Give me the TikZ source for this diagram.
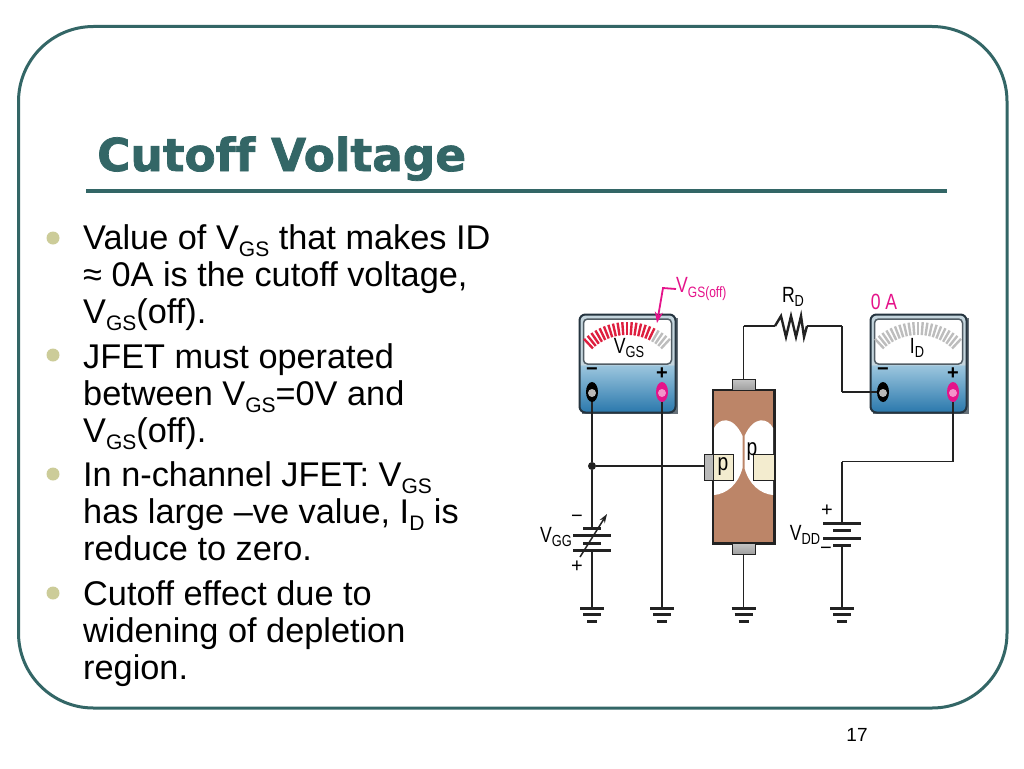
\documentclass[tikz,border=0pt]{standalone}
\usepackage{fontspec}
\setmainfont{Liberation Sans}
\newfontfamily\titlefont[Ligatures=NoCommon,FakeBold=1.6]{DejaVu Sans}
\newfontfamily\labelfont[FakeStretch=0.8]{Liberation Sans}
\usetikzlibrary{shapes.geometric,arrows.meta}
\definecolor{slateteal}{HTML}{336666}
\definecolor{bulletsoft}{HTML}{CCCC99}
\definecolor{meterpink}{HTML}{E5128A}
\definecolor{meterdark}{HTML}{25343F}
\definecolor{metertop}{HTML}{C4D5DD}
\definecolor{meterlight}{HTML}{9CC6DE}
\definecolor{meterlow}{HTML}{2A78AC}
\definecolor{tickred}{HTML}{DE1F3F}
\definecolor{tickgray}{HTML}{BDBDBD}
\definecolor{channelbrown}{HTML}{BC8568}
\definecolor{pbeige}{HTML}{F3ECCF}
\definecolor{wirecol}{HTML}{222222}
\pgfdeclareverticalshading{metershade}{100bp}{color(0bp)=(meterlow); color(25bp)=(meterlow); color(49bp)=(meterlight); color(49.5bp)=(metertop); color(100bp)=(metertop)}
\newcommand\subtext[2][21]{\raisebox{-0.22em}{\fontsize{#1}{#1}\selectfont #2}}
\newcommand\labelsub[2][16]{\raisebox{-0.2em}{\fontsize{#1}{#1}\selectfont #2}}
\newcommand\bodysize{\fontsize{34.3}{37}\selectfont}
\tikzset{
  bodytext/.style={anchor=north west, inner sep=0pt, align=left, font=\bodysize},
  bulletdot/.style={circle, fill=bulletsoft, inner sep=0pt, minimum size=13pt},
  wire/.style={line width=1.5pt, draw=wirecol},
  barline/.style={line width=3pt, draw=wirecol},
  meterbox/.style={rectangle, rounded corners=6pt, draw=meterdark, line width=2pt, shading=metershade, minimum width=96pt, minimum height=98pt, inner sep=0pt},
  meterwindow/.style={rectangle, rounded corners=4pt, draw=meterdark!80, fill=white, line width=1.5pt, minimum width=88pt, minimum height=45pt, inner sep=0pt},
  negterm/.style={ellipse, fill=black, inner sep=0pt, minimum width=12pt, minimum height=20pt},
  posterm/.style={ellipse, fill=meterpink, inner sep=0pt, minimum width=12pt, minimum height=20pt},
  termcore/.style={circle, inner sep=0pt, minimum size=8pt},
  signtext/.style={inner sep=0pt, font=\fontsize{20}{20}\selectfont},
  metersign/.style={inner sep=0pt, font=\bfseries\fontsize{20}{20}\selectfont},
  valuetext/.style={inner sep=0pt, font=\labelfont\fontsize{22}{22}\selectfont},
  leadcap/.style={rectangle, draw=wirecol, line width=1pt, top color=gray!45, bottom color=gray!75, inner sep=0pt, minimum width=23pt, minimum height=11pt},
  pregion/.style={rectangle, draw=wirecol, line width=1pt, fill=pbeige, inner sep=0pt, minimum height=26pt, font=\labelfont\fontsize{24}{24}\selectfont},
  dotjoin/.style={circle, fill=wirecol, inner sep=0pt, minimum size=8pt}
}
\begin{document}
\begin{tikzpicture}[x=1pt, y=-1pt]
  \useasboundingbox (0,0) rectangle (1024,768);
  \fill[white] (0,0) rectangle (1024,768);
  \draw[slateteal, line width=3pt, rounded corners=75pt] (18.5,26.5) rectangle (1007,708);

  \node[inner sep=0pt, anchor=base west, text=slateteal, font=\titlefont\bfseries\fontsize{45.4}{50}\selectfont] (title) at (97,171) {Cutoff Voltage};
  \coordinate (ruleleft) at (86,191);
  \coordinate (ruleright) at (947,191);
  \draw[slateteal, line width=4pt] (ruleleft) -- (ruleright);

  \node[bulletdot] (dot1) at (53,238) {};
  \node[bulletdot] (dot2) at (53,355) {};
  \node[bulletdot] (dot3) at (53,474) {};
  \node[bulletdot] (dot4) at (53,593) {};
  \node[bodytext] (item1) at (83,224) {Value of V\subtext{GS} that makes ID\\≈ 0A is the cutoff voltage,\\V\subtext{GS}(off).};
  \node[bodytext] (item2) at (83,343) {JFET must operated\\between V\subtext{GS}=0V and\\V\subtext{GS}(off).};
  \node[bodytext] (item3) at (83,461) {In n-channel JFET: V\subtext{GS}\\has large –ve value, I\subtext{D} is\\reduce to zero.};
  \node[bodytext] (item4) at (83,580) {Cutoff effect due to\\widening of depletion\\region.};
  \node[inner sep=0pt, font=\fontsize{19}{19}\selectfont] (pagenum) at (857,735) {17};

  \foreach \mname/\mx/\lastred in {vgs/0/16, id/291/-1} {
    \fill[meterdark!70] (579.5+\mx+2,316+2) rectangle (675.5+\mx+2,412+2);
    \node[meterbox] (\mname meter) at (627.5+\mx,363.5) {};
    \node[meterwindow] (\mname window) at (627.5+\mx,341.5) {};
    \foreach \tick in {0,...,20} {
      \pgfmathsetmacro\ang{133-\tick*4.3}
      \ifnum\tick>\lastred \def\tickcol{tickgray}\else\def\tickcol{tickred}\fi
      \draw[\tickcol, line width=2.4pt] ({627+\mx+50*cos(\ang)},{385-50*sin(\ang)}) -- ({627+\mx+63*cos(\ang)},{385-63*sin(\ang)});
    }
    \node[negterm] (\mname neg) at (592+\mx,392) {};
    \node[termcore, fill=gray!55] (\mname negcore) at (592+\mx,393) {};
    \node[posterm] (\mname pos) at (662+\mx,392) {};
    \node[termcore, fill=meterpink!45] (\mname poscore) at (662+\mx,393) {};
    \node[metersign] (\mname minus) at (592+\mx,372) {−};
    \node[metersign] (\mname plus) at (662+\mx,374) {+};
  }
  \node[valuetext] (vgsname) at (629,348) {V\labelsub{GS}};
  \node[valuetext] (idname) at (917,348) {I\labelsub{D}};

  \node[rectangle, draw=wirecol, line width=1.5pt, fill=channelbrown, inner sep=0pt, minimum width=61pt, minimum height=153pt] (jfet) at (743.5,466.5) {};
  \fill[white] (714,428) .. controls (719,418) and (733,415) .. (742.5,436) -- (742.5,468) .. controls (738,485) and (726,494) .. (714,495) -- cycle;
  \fill[white] (773,428) .. controls (768,418) and (754,415) .. (744.5,436) -- (744.5,468) .. controls (749,485) and (761,494) .. (773,495) -- cycle;
  \draw[wirecol, line width=1.5pt] (jfet.north west) rectangle (jfet.south east);
  \node[leadcap] (drain) at (743.5,384.5) {};
  \node[leadcap] (source) at (743.5,548.5) {};
  \node[rectangle, draw=wirecol, line width=1pt, fill=gray!55, inner sep=0pt, minimum width=9pt, minimum height=26pt] (gate) at (708.5,467) {};
  \node[pregion, minimum width=20pt] (pleft) at (723,467) {p};
  \node[pregion, minimum width=21pt] (pright) at (763.5,467) {};
  \node[inner sep=0pt, font=\labelfont\fontsize{24}{24}\selectfont] (ptext) at (752,452) {p};

  \node[dotjoin] (junc) at (592,466) {};
  \coordinate (vggtop) at (592,528);
  \coordinate (vggbot) at (592,550);
  \coordinate (gatein) at (704,466);
  \coordinate (vddtop) at (842,523);
  \coordinate (vddbot) at (842,545);
  \coordinate (drainup) at (743.5,326);
  \coordinate (resleft) at (775,326);
  \coordinate (resright) at (807,326);
  \coordinate (resturn) at (842,326);
  \coordinate (resdown) at (842,392);
  \coordinate (vddturn) at (842,461.5);
  \coordinate (idturn) at (953,461.5);
  \foreach \gname/\gx in {gnda/592, gndb/662, gndc/743.5, gndd/842} {
    \coordinate (\gname) at (\gx,608);
    \draw[barline] (\gx-12,608) -- (\gx+12,608);
    \draw[barline] (\gx-9,614.5) -- (\gx+9,614.5);
    \draw[barline] (\gx-5,621) -- (\gx+5,621);
  }

  \foreach \source/\dest in {vgsneg/junc, junc/vggtop, vggbot/gnda, vgspos/gndb, junc/gatein, drain/drainup, drainup/resleft, resright/resturn, resturn/resdown, resdown/idneg, idpos/idturn, idturn/vddturn, vddturn/vddtop, vddbot/gndd, source/gndc}
    \path[wire] (\source) edge (\dest);
  \draw[wirecol, line width=2.4pt, miter limit=10] (resleft) -- (781,316) -- (786,337) -- (791,316) -- (796,337) -- (801,316) -- (804,337) -- (resright);

  \draw[barline] (583,528) -- (601,528);
  \draw[barline] (573,535.5) -- (611,535.5);
  \draw[barline] (583,543) -- (601,543);
  \draw[barline] (573,550) -- (611,550);
  \draw[wirecol, line width=1.5pt, -{Stealth[length=9pt,width=6pt]}] (580,557) -- (607,514);
  \draw[barline] (823,523) -- (861,523);
  \draw[barline] (833,530) -- (851,530);
  \draw[barline] (823,538) -- (861,538);
  \draw[barline] (833,545) -- (851,545);

  \node[signtext] (vggminus) at (577,519) {−};
  \node[signtext] (vggplus) at (577,567) {+};
  \node[signtext] (vddplus) at (827,511) {+};
  \node[signtext] (vddminus) at (826,551) {−};
  \node[valuetext] (vggname) at (556,537) {V\labelsub{GG}};
  \node[valuetext] (vddname) at (805,535) {V\labelsub{DD}};
  \node[valuetext] (rdname) at (793,297) {R\labelsub{D}};

  \node[valuetext, text=meterpink, anchor=west] (offname) at (676,289) {V\labelsub[15]{GS(off)}};
  \node[valuetext, text=meterpink] (zeroamp) at (884,302) {0 A};
  \coordinate (offbend) at (663,288);
  \coordinate (offtip) at (657,323);
  \draw[meterpink, line width=1.8pt, -{Stealth[length=11pt,width=8pt]}] (offname.west) -- (offbend) -- (offtip);
\end{tikzpicture}
\end{document}
